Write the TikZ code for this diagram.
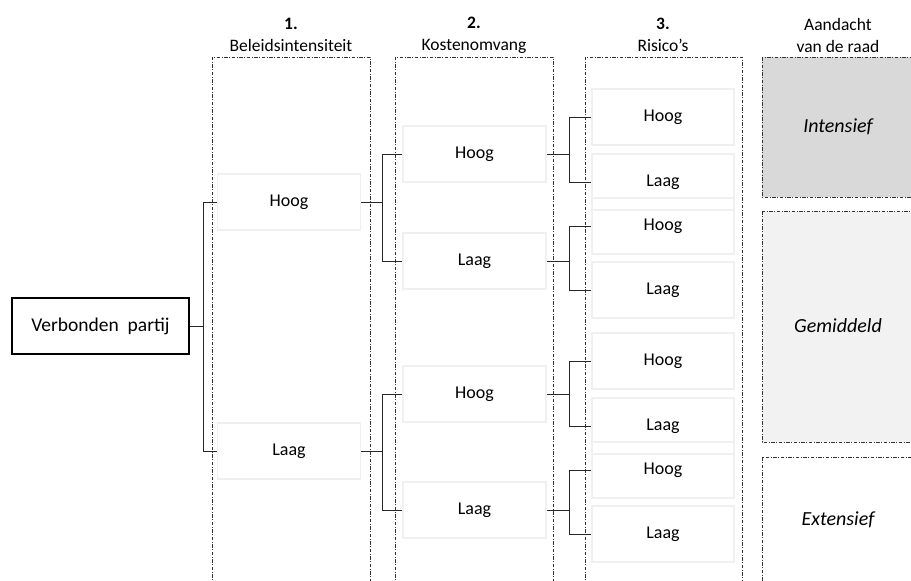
\documentclass[tikz,border=0pt]{standalone}
\usepackage{fontspec}
\setmainfont{Carlito}
\usetikzlibrary{positioning}
\usepackage{xcolor}
\definecolor{boxline}{HTML}{F0F0F0}
\definecolor{intens}{HTML}{D9D9D9}
\definecolor{gemid}{HTML}{F2F2F2}
\newcommand{\colframe}[2] {
    \draw[col] (#1,600) -- (#1,57) -- (#2,57) -- (#2,600);
}

\begin{document}
\begin{tikzpicture}[x=1pt,y=-1pt]
    \tikzset{
        col/.style={draw=black!80,line width=0.8pt,
            dash pattern=on 3.5pt off 1.5pt on 1pt off 1.5pt},
        choice/.style={draw=boxline,line width=1.6pt,minimum width=143pt,
            minimum height=56pt,inner sep=0pt,font=\fontsize{18}{20}\selectfont},
        link/.style={draw=black!85,line width=1pt},
        head/.style={align=center,font=\fontsize{17.5}{22}\selectfont},
        verdict/.style={font=\fontsize{20}{22}\selectfont\itshape}
    }
    \useasboundingbox (0,0) rectangle (911,581);
    % columns
    \colframe{212}{370}
    \colframe{395}{553}
    \colframe{585}{742}
    \node[head] (h1) at (291,35) {\textbf{1.}\\Beleidsintensiteit};
    \node[head] (h2) at (474,35) {\textbf{2.}\\Kostenomvang};
    \node[head] (h3) at (663,35) {\textbf{3.}\\Risico’s};
    \node[head] (h4) at (838,35) {Aandacht\\van de raad};
    % attention
    \draw[col,fill=intens] (762,57) rectangle (930,197);
    \draw[col,fill=gemid] (762,211) rectangle (930,442);
    \draw[col] (762,457) rectangle (930,600);
    \node[verdict] (int) at (838,127) {Intensief};
    \node[verdict] (gem) at (838,326) {Gemiddeld};
    \node[verdict] (ext) at (838,520) {Extensief};
    % boxes
    \node[draw,line width=2pt,minimum width=177pt,minimum height=56pt,inner sep=0pt,
        font=\fontsize{19.5}{22}\selectfont] (vp) at (100.5,326) {Verbonden\ \ partij};
    \node[choice] (b1) at (289,202) {Hoog};
    \node[choice] (b2) at (289,451) {Laag};
    \foreach \y/\t/\n in {154/Hoog/k1,261/Laag/k2,394/Hoog/k3,510/Laag/k4}
        \node[choice] (\n) at (474.5,\y) {\t};
    \foreach \y/\t/\n in {117/Hoog/r1,182/Laag/r2,226/Hoog/r3,290/Laag/r4,
           361/Hoog/r5,426/Laag/r6,470/Hoog/r7,534/Laag/r8}
        \node[choice,minimum width=142pt] (\n) at (663,\y) {\t};
    % forks
    \draw[link] (b1.west) -- ++(-13,0) coordinate (f0) |- (b2.west);
    \draw[link] (vp.east) -- (vp.east -| f0);
    \foreach \p/\a/\b in {b1/k1/k2,b2/k3/k4} {
        \draw[link] (\p.east) -- ++(21,0) coordinate (f);
        \draw[link] (\a.west) -| (f) |- (\b.west);
    }
    \foreach \p/\a/\b in {k1/r1/r2,k2/r3/r4,k3/r5/r6,k4/r7/r8} {
        \draw[link] (\p.east) -- ++(23,0) coordinate (f);
        \draw[link] (\a.west) -| (f) |- (\b.west);
    }
\end{tikzpicture}
\end{document}
